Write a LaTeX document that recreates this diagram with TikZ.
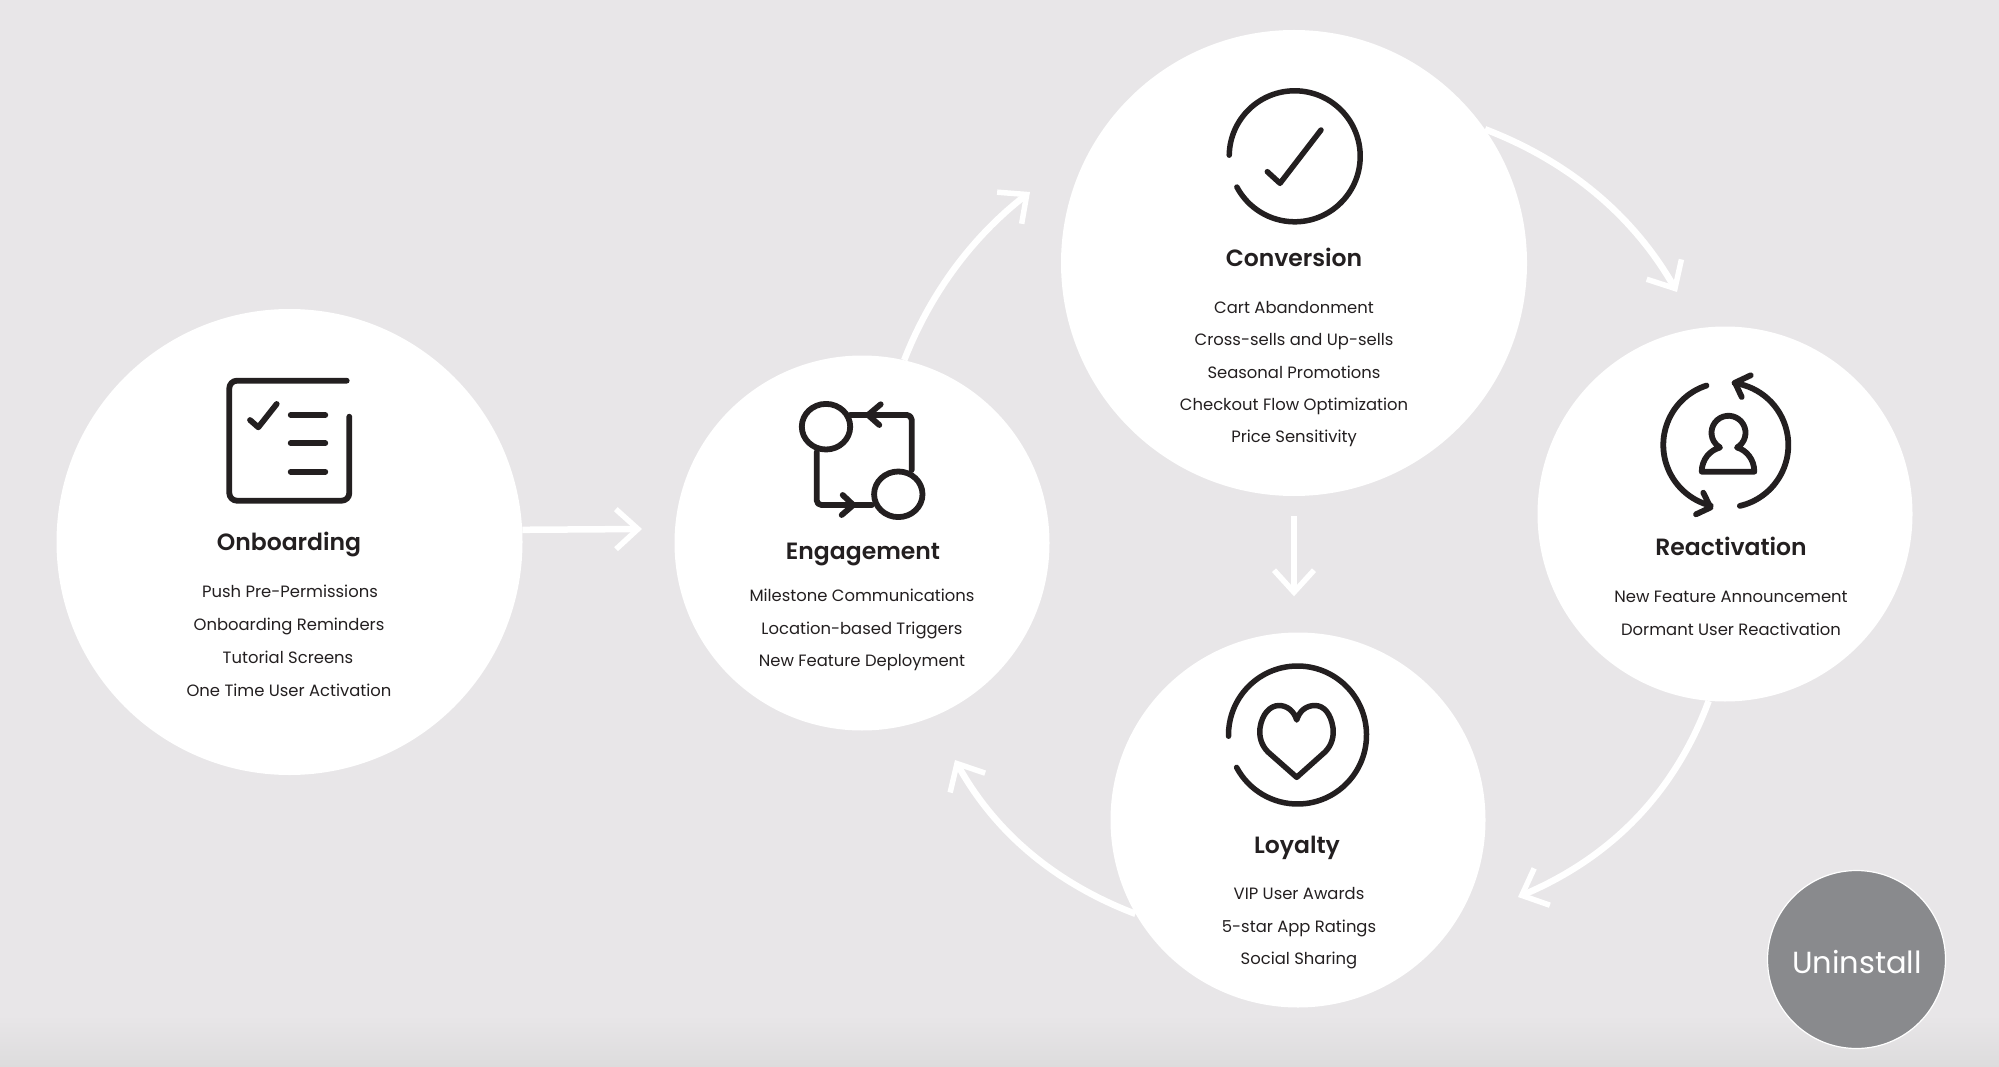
\documentclass[tikz,border=0pt]{standalone}
\usepackage{fontspec}
\setmainfont{Poppins}[BoldFont={Poppins SemiBold}]
\usetikzlibrary{arrows.meta,calc}
\definecolor{bgc}{HTML}{E8E6E8}
\definecolor{bgd}{HTML}{DDDCDD}
\definecolor{ink}{HTML}{231F20}
\definecolor{greyc}{HTML}{898A8D}
\tikzset{
  x=1pt,y=-1pt,
  bub/.style={circle,fill=white,draw=none,inner sep=0pt,minimum size=#1},
  ttl/.style={text=ink,font=\fontsize{23.5}{24}\selectfont\bfseries,inner sep=0pt,anchor=center,text height=18pt,text depth=5pt},
  itm/.style={text=ink,font=\fontsize{16.4}{18}\selectfont,inner sep=0pt,anchor=center,text height=13pt,text depth=4pt},
  flow/.style={draw=white,line width=6.5pt,-{Straight Barb[length=22pt,width=40pt,line width=5.5pt]}},
  ico/.style={draw=ink,line width=5.8pt,line cap=round,line join=round},
  icothin/.style={draw=ink,line width=5.5pt,line cap=round,line join=round},
}
\begin{document}
\begin{tikzpicture}
\useasboundingbox (0,0) rectangle (1999,1067);
\fill[bgc] (0,0) rectangle (1999,1067);
\shade[top color=bgc,bottom color=bgd] (0,1015) rectangle (1999,1067);

\node[bub=466pt] (onboarding) at (289.5,542) {};
\node[bub=375pt] (engagement) at (862,543) {};
\node[bub=466pt] (conversion) at (1294,263) {};
\node[bub=375pt] (reactivation) at (1725,514) {};
\node[bub=375pt] (loyalty) at (1298,820) {};
\node[circle,fill=greyc,draw=white,line width=1.2pt,inner sep=0pt,minimum size=178pt] (uninstall) at (1856.5,959.5) {};

% connectors
\coordinate (e1) at (642,529);
\coordinate (e2) at (1030,192);
\coordinate (e3) at (1677,292);
\coordinate (e5) at (1518,897);
\coordinate (e6) at (955,760);
\draw[flow] (onboarding.3) -- (e1);
\draw[flow] (engagement.77) .. controls (930,294) and (972,237) .. (e2);
\draw[flow] (conversion.35) .. controls (1568,161) and (1633,215) .. (e3);
\draw[flow,shorten <=20pt,shorten >=36pt] (conversion.south) -- (conversion.south |- loyalty.north);
\draw[flow] (reactivation.265) .. controls (1675,792) and (1612,857) .. (e5);
\draw[flow] (loyalty.210) .. controls (1057,884) and (996,834) .. (e6);

% onboarding icon
\draw[ico] (346.7,380.7) -- (237,380.7) arc[start angle=90,end angle=180,radius=7.7pt] -- (229.3,493) arc[start angle=180,end angle=270,radius=7.7pt] -- (341.6,500.7) arc[start angle=270,end angle=360,radius=7.7pt] -- (349.3,416.7);
\draw[ico] (250,420) -- (258.3,427.3) -- (276.7,404);
\draw[ico] (290.7,415) -- (325.3,415);
\draw[ico] (290.7,443.3) -- (325.3,443.3);
\draw[ico] (290.7,471.7) -- (325.3,471.7);

% engagement icon
\draw[ico] (850,415) -- (907,415) arc[start angle=90,end angle=0,radius=4.7pt] -- (911.7,470);
\draw[ico] (872,505) -- (821.4,505) arc[start angle=270,end angle=180,radius=4.7pt] -- (816.7,452);
\draw[ico,fill=white] (826,426.7) ellipse[x radius=24.2pt,y radius=22.8pt];
\draw[ico,fill=white] (898.3,494.3) ellipse[x radius=24.2pt,y radius=22.8pt];
\draw[ico] (880.7,404.3) -- (868,415) -- (879.3,425);
\draw[ico] (842.7,495) -- (853.3,505) -- (841.7,515);

% conversion icon
\draw[icothin] ([shift={(179:65.5pt)}]1294.7,156.3) arc[start angle=179,end angle=-152,radius=65.5pt];
\draw[icothin] (1267.3,171.7) -- (1280,183.3) -- (1321,130);

% reactivation icon
\draw[ico] ([shift={(108:62.5pt)}]1725.8,445) arc[start angle=108,end angle=256,radius=62.5pt];
\draw[ico] ([shift={(-77:62.5pt)}]1725.8,445) arc[start angle=-77,end angle=82,radius=62.5pt];
\draw[ico] (1703.3,492.7) -- (1710.5,507.5) -- (1696,514.3);
\draw[ico] (1750.7,375.3) -- (1735,382.7) -- (1741.7,397);
\draw[ico] (1701.7,471.7) -- (1754.3,471.7) .. controls (1754.3,459) and (1746,450) .. (1737,447.5)
  arc[start angle=-60,end angle=240,radius=17pt]
  .. controls (1710.5,450) and (1701.7,459) .. (1701.7,471.7) -- cycle;

% loyalty icon
\draw[icothin] ([shift={(181:69pt)}]1297.5,735) arc[start angle=181,end angle=-152,radius=69pt];
\draw[icothin] (1296.7,777.3) -- (1268,752) .. controls (1261,745) and (1259,736) .. (1260,728)
  .. controls (1262,714) and (1270,705.5) .. (1279,705.5) .. controls (1287,705.5) and (1294,711) .. (1296.7,720)
  .. controls (1299.4,711) and (1306,705.5) .. (1315,705.5) .. controls (1324,705.5) and (1331,714) .. (1333,728)
  .. controls (1334,736) and (1332,745) .. (1325,752) -- cycle;

% text
\node[ttl] (t1) at (289,543.5) {Onboarding};
\node[itm] (i11) at (290,593) {Push Pre-Permissions};
\node[itm] (i12) at (289,626) {Onboarding Reminders};
\node[itm] (i13) at (288,659) {Tutorial Screens};
\node[itm] (i14) at (289,691.5) {One Time User Activation};

\node[ttl] (t2) at (863,553) {Engagement};
\node[itm] (i21) at (862,596.7) {Milestone Communications};
\node[itm] (i22) at (862,629.5) {Location-based Triggers};
\node[itm] (i23) at (862,661.7) {New Feature Deployment};

\node[ttl] (t3) at (1294,260) {Conversion};
\node[itm] (i31) at (1294,308.5) {Cart Abandonment};
\node[itm] (i32) at (1294,340.5) {Cross-sells and Up-sells};
\node[itm] (i33) at (1294,373.5) {Seasonal Promotions};
\node[itm] (i34) at (1294,405.5) {Checkout Flow Optimization};
\node[itm] (i35) at (1294,437.5) {Price Sensitivity};

\node[ttl] (t4) at (1731,548.5) {Reactivation};
\node[itm] (i41) at (1731,598) {New Feature Announcement};
\node[itm] (i42) at (1731,631) {Dormant User Reactivation};

\node[ttl] (t5) at (1297,847) {Loyalty};
\node[itm] (i51) at (1299,894.5) {VIP User Awards};
\node[itm] (i52) at (1299,927.5) {5-star App Ratings};
\node[itm] (i53) at (1299,959.5) {Social Sharing};

\node[text=white,font=\fontsize{30.5}{31}\selectfont,inner sep=0pt,anchor=center] (t6) at (1857,962) {Uninstall};
\end{tikzpicture}
\end{document}
